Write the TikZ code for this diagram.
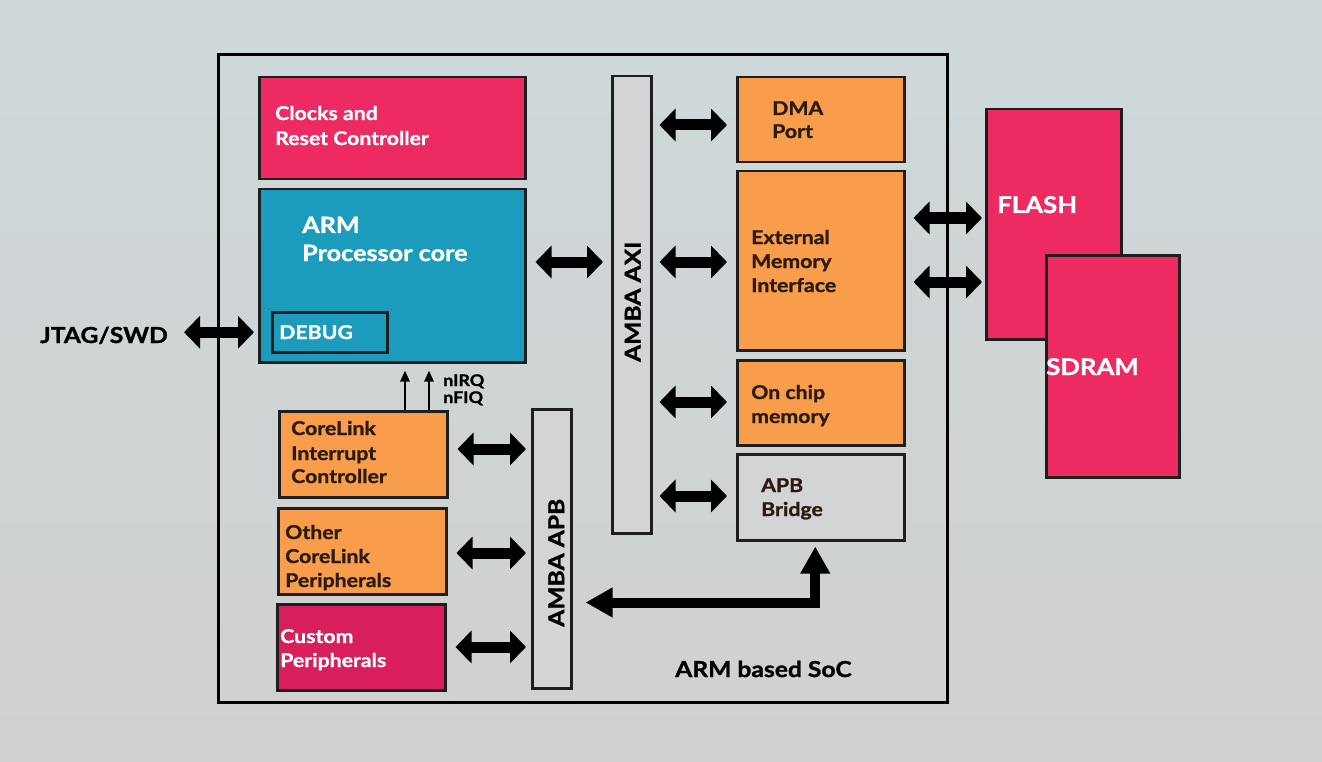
\documentclass[tikz,border=0pt]{standalone}
\usepackage{fontspec}
\setmainfont{Lato}[FakeStretch=1.12, BoldFeatures={FakeBold=1.2}]
\usetikzlibrary{arrows.meta,calc}
\definecolor{pinkc}{HTML}{EE2A62}
\definecolor{cuspink}{HTML}{D81F5C}
\definecolor{tealc}{HTML}{1C9CBD}
\definecolor{orangec}{HTML}{F89D4C}
\definecolor{grayc}{HTML}{D3D4D5}
\definecolor{edgec}{HTML}{1E1E1E}
\definecolor{darktxt}{HTML}{2B1A0E}
\definecolor{bgtop}{HTML}{CED8DA}
\definecolor{bgmid}{HTML}{E2E4E5}
\definecolor{bgbot}{HTML}{D0D0D0}
\tikzset{
  blk/.style={draw=edgec, line width=2.5pt, inner sep=0pt, anchor=north west},
  wtxt/.style={anchor=base west, inner sep=0pt, text=white, font=\bfseries\fontsize{19}{23}\selectfont},
  btxt/.style={anchor=base west, inner sep=0pt, text=darktxt, font=\bfseries\fontsize{19}{23}\selectfont},
  dbl/.style={line width=11pt, draw=black, {Triangle[length=16pt,width=32pt]}-{Triangle[length=16pt,width=32pt]}},
  bigarr/.style={line width=10pt, draw=black, {Triangle[length=27pt,width=28pt]}-{Triangle[length=27pt,width=28pt]}},
  thinarr/.style={line width=2.5pt, draw=black, -{Triangle[length=11pt,width=9pt]}},
}
\begin{document}
\begin{tikzpicture}[x=1pt,y=-1pt]
\useasboundingbox (0,0) rectangle (1322,762);
\shade[top color=bgtop, middle color=bgmid, bottom color=bgbot] (0,0) rectangle (1322,762);

% SoC frame
\node[draw=black, line width=3pt, inner sep=0pt, anchor=north west, minimum width=729pt, minimum height=648pt] (soc) at (217,53) {};

% blocks
\node[blk, fill=pinkc, minimum width=266pt, minimum height=102pt] (clk) at (258,76) {};
\node[blk, fill=tealc, minimum width=266pt, minimum height=173pt] (arm) at (258,188) {};
\node[blk, fill=tealc, minimum width=115pt, minimum height=40pt] (dbg) at (271,311) {};
\node[blk, fill=grayc, minimum width=39pt, minimum height=457pt] (axi) at (611,75) {};
\node[blk, fill=orangec, minimum width=167pt, minimum height=85pt] (dma) at (736,76) {};
\node[blk, fill=orangec, minimum width=167pt, minimum height=179pt] (emi) at (736,170) {};
\node[blk, fill=orangec, minimum width=167pt, minimum height=85pt] (ocm) at (736,359) {};
\node[blk, fill=grayc, minimum width=167pt, minimum height=86pt] (apbb) at (736,453) {};
\node[blk, fill=pinkc, minimum width=135pt, minimum height=230pt] (flash) at (985,108) {};
\node[blk, fill=pinkc, minimum width=133pt, minimum height=222pt] (sdram) at (1045,254) {};
\node[blk, fill=orangec, minimum width=168pt, minimum height=86pt] (gic) at (278,410) {};
\node[blk, fill=orangec, minimum width=168pt, minimum height=86pt] (oth) at (277,507) {};
\node[blk, fill=cuspink, minimum width=168pt, minimum height=86pt] (cus) at (276,603) {};
\node[blk, fill=grayc, minimum width=39pt, minimum height=279pt] (apb) at (531,408) {};

% texts
\node[wtxt] (clk1) at (275,120) {Clocks and};
\node[wtxt] (clk2) at (275,145) {Reset Controller};
\node[wtxt, font=\bfseries\fontsize{22.5}{26}\selectfont] (arm1) at (302,233) {ARM};
\node[wtxt, font=\bfseries\fontsize{22.5}{26}\selectfont] (arm2) at (302,261) {Processor core};
\node[wtxt] (dbg1) at (279,339) {DEBUG};
\node[btxt] (dma1) at (772,115) {DMA};
\node[btxt] (dma2) at (772,138) {Port};
\node[btxt] (emi1) at (751,244) {External};
\node[btxt] (emi2) at (751,268) {Memory};
\node[btxt] (emi3) at (751,292) {Interface};
\node[btxt] (ocm1) at (751,399) {On chip};
\node[btxt] (ocm2) at (751,423) {memory};
\node[btxt] (apbb1) at (761,492) {APB};
\node[btxt] (apbb2) at (761,516) {Bridge};
\node[wtxt, font=\bfseries\fontsize{23}{27}\selectfont] (flash1) at (997,213) {FLASH};
\node[wtxt, font=\bfseries\fontsize{23}{27}\selectfont] (sdram1) at (1046,375) {SDRAM};
\node[btxt] (gic1) at (291,435) {CoreLink};
\node[btxt] (gic2) at (291,460) {Interrupt};
\node[btxt] (gic3) at (291,483) {Controller};
\node[btxt] (oth1) at (285,539) {Other};
\node[btxt] (oth2) at (285,563) {CoreLink};
\node[btxt] (oth3) at (285,587) {Peripherals};
\node[wtxt] (cus1) at (280,643) {Custom};
\node[wtxt] (cus2) at (280,667) {Peripherals};
\node[btxt, text=black, font=\bfseries\fontsize{22}{26}\selectfont] (jtag) at (40,343) {JTAG/SWD};
\node[btxt, text=black, font=\bfseries\fontsize{22}{26}\selectfont] (socl) at (675,677) {ARM based SoC};
\node[btxt, text=black, font=\bfseries\fontsize{16}{18}\selectfont] (nirq) at (443,386) {nIRQ};
\node[btxt, text=black, font=\bfseries\fontsize{16}{18}\selectfont] (nfiq) at (443,403) {nFIQ};
\node[inner sep=0pt, rotate=90, text=black, font=\bfseries\fontsize{22}{26}\selectfont] (axit) at ($(axi.center)+(1,-3)$) {AMBA AXI};
\node[inner sep=0pt, rotate=90, text=black, font=\bfseries\fontsize{22}{26}\selectfont] (apbt) at ($(apb.center)+(4.5,14)$) {AMBA APB};

% connectors
\draw[dbl, shorten <=16pt, shorten >=4pt] (jtag.east |- dbg.west) -- (arm.west |- dbg.west);
\draw[dbl] ($(arm.north east)+(9,74)$) -- ($(axi.west |- arm.north)+(-8,74)$);
\draw[dbl] ($(axi.east |- dma.north)+(7,49)$) -- ($(dma.north west)+(-9,49)$);
\draw[dbl] ($(axi.east |- emi.north)+(7,92)$) -- ($(emi.north west)+(-9,92)$);
\draw[dbl] ($(axi.east |- ocm.north)+(7,43)$) -- ($(ocm.north west)+(-9,43)$);
\draw[dbl] ($(axi.east |- apbb.north)+(7,43)$) -- ($(apbb.north west)+(-9,43)$);
\draw[dbl] ($(emi.east |- flash.north)+(8,110)$) -- ($(flash.north west)+(-3,110)$);
\draw[dbl] ($(emi.east |- flash.north)+(8,174)$) -- ($(flash.north west)+(-3,174)$);
\draw[dbl] ($(gic.north east)+(9,39)$) -- ($(apb.west |- gic.north)+(-5,39)$);
\draw[dbl] ($(oth.north east)+(9,46)$) -- ($(apb.west |- oth.north)+(-5,46)$);
\draw[dbl] ($(cus.north east)+(9,44)$) -- ($(apb.west |- cus.north)+(-5,44)$);
\draw[bigarr] ($(apbb.south)+(-5.5,5)$) -- ($(apbb.south)+(-5.5,61)$) -- ($(apb.east |- apbb.south)+(13,61)$);
\draw[thinarr] ($(gic.north west)+(127,0)$) -- ($(arm.south west)+(147,7)$);
\draw[thinarr] ($(gic.north west)+(151,0)$) -- ($(arm.south west)+(171,7)$);
\end{tikzpicture}
\end{document}
